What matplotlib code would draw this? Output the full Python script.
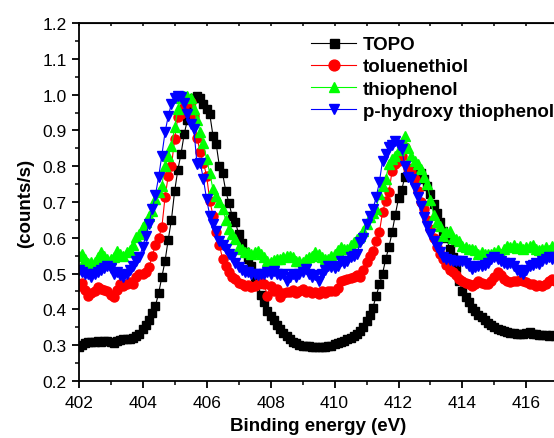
import numpy as np
import matplotlib
matplotlib.use('Agg')
import matplotlib.pyplot as plt
from matplotlib.ticker import MultipleLocator

plt.rcParams['font.family'] = ['Liberation Sans', 'DejaVu Sans']

# binding energy grid (eV), 0.1 eV steps
energy = np.round(np.arange(402.0, 416.95, 0.1), 1)

# normalised intensities, 10 points per eV
topo = [
    0.295, 0.300, 0.305, 0.308, 0.310, 0.310, 0.311, 0.310, 0.312, 0.311,
    0.310, 0.305, 0.312, 0.314, 0.316, 0.317, 0.318, 0.320, 0.325, 0.330,
    0.345, 0.355, 0.370, 0.390, 0.410, 0.445, 0.490, 0.535, 0.595, 0.650,
    0.730, 0.790, 0.835, 0.890, 0.930, 0.960, 0.990, 0.997, 0.990, 0.975,
    0.960, 0.945, 0.885, 0.862, 0.800, 0.780, 0.730, 0.697, 0.660, 0.645,
    0.610, 0.585, 0.560, 0.540, 0.520, 0.490, 0.470, 0.440, 0.420, 0.395,
    0.382, 0.370, 0.355, 0.345, 0.335, 0.325, 0.318, 0.310, 0.305, 0.300,
    0.299, 0.298, 0.297, 0.296, 0.295, 0.294, 0.295, 0.296, 0.297, 0.299,
    0.303, 0.306, 0.309, 0.313, 0.317, 0.320, 0.326, 0.332, 0.340, 0.352,
    0.368, 0.385, 0.405, 0.437, 0.470, 0.500, 0.540, 0.575, 0.615, 0.665,
    0.710, 0.735, 0.770, 0.780, 0.783, 0.786, 0.788, 0.780, 0.764, 0.745,
    0.722, 0.695, 0.670, 0.645, 0.620, 0.600, 0.570, 0.545, 0.515, 0.480,
    0.450, 0.435, 0.420, 0.405, 0.395, 0.385, 0.378, 0.370, 0.362, 0.355,
    0.350, 0.346, 0.342, 0.340, 0.336, 0.335, 0.334, 0.332, 0.331, 0.330,
    0.334, 0.338, 0.332, 0.330, 0.327, 0.328, 0.327, 0.326, 0.327, 0.326,
]

toluenethiol = [
    0.466, 0.475, 0.455, 0.438, 0.445, 0.450, 0.462, 0.458, 0.455, 0.450,
    0.440, 0.434, 0.455, 0.470, 0.465, 0.472, 0.476, 0.470, 0.490, 0.500,
    0.500, 0.505, 0.518, 0.550, 0.580, 0.600, 0.629, 0.713, 0.773, 0.800,
    0.876, 0.937, 0.946, 0.965, 0.983, 0.980, 0.941, 0.880, 0.839, 0.810,
    0.773, 0.704, 0.662, 0.615, 0.580, 0.541, 0.520, 0.504, 0.490, 0.485,
    0.475, 0.470, 0.466, 0.468, 0.462, 0.466, 0.470, 0.476, 0.470, 0.438,
    0.466, 0.450, 0.457, 0.434, 0.445, 0.448, 0.448, 0.455, 0.446, 0.450,
    0.457, 0.448, 0.450, 0.445, 0.448, 0.443, 0.450, 0.447, 0.452, 0.450,
    0.452, 0.460, 0.480, 0.482, 0.485, 0.487, 0.490, 0.495, 0.490, 0.510,
    0.532, 0.550, 0.564, 0.590, 0.615, 0.671, 0.704, 0.727, 0.788, 0.806,
    0.815, 0.830, 0.853, 0.795, 0.783, 0.764, 0.730, 0.700, 0.680, 0.650,
    0.625, 0.600, 0.575, 0.555, 0.541, 0.525, 0.510, 0.504, 0.495, 0.485,
    0.480, 0.475, 0.470, 0.466, 0.472, 0.480, 0.475, 0.470, 0.472, 0.478,
    0.490, 0.504, 0.495, 0.485, 0.480, 0.476, 0.478, 0.480, 0.482, 0.478,
    0.476, 0.470, 0.472, 0.466, 0.468, 0.466, 0.470, 0.478, 0.485, 0.480,
]

thiophenol = [
    0.550, 0.555, 0.540, 0.530, 0.532, 0.532, 0.545, 0.560, 0.550, 0.540,
    0.540, 0.545, 0.564, 0.555, 0.550, 0.560, 0.565, 0.580, 0.601, 0.610,
    0.630, 0.643, 0.660, 0.676, 0.708, 0.727, 0.746, 0.800, 0.830, 0.857,
    0.909, 0.960, 0.992, 0.995, 0.997, 0.992, 0.960, 0.930, 0.895, 0.865,
    0.820, 0.780, 0.736, 0.718, 0.700, 0.680, 0.650, 0.625, 0.610, 0.597,
    0.575, 0.569, 0.560, 0.559, 0.555, 0.560, 0.564, 0.555, 0.545, 0.536,
    0.532, 0.538, 0.540, 0.541, 0.545, 0.548, 0.550, 0.545, 0.536, 0.536,
    0.532, 0.540, 0.545, 0.550, 0.560, 0.555, 0.545, 0.541, 0.541, 0.550,
    0.555, 0.565, 0.573, 0.570, 0.570, 0.580, 0.587, 0.597, 0.606, 0.620,
    0.640, 0.657, 0.670, 0.680, 0.722, 0.745, 0.764, 0.806, 0.820, 0.830,
    0.845, 0.867, 0.885, 0.850, 0.830, 0.815, 0.805, 0.792, 0.770, 0.750,
    0.705, 0.665, 0.645, 0.634, 0.606, 0.615, 0.620, 0.600, 0.597, 0.590,
    0.578, 0.575, 0.570, 0.569, 0.565, 0.555, 0.560, 0.555, 0.555, 0.555,
    0.560, 0.565, 0.555, 0.570, 0.578, 0.575, 0.580, 0.572, 0.578, 0.570,
    0.575, 0.578, 0.580, 0.570, 0.565, 0.569, 0.575, 0.565, 0.578, 0.572,
]

hydroxy = [
    0.510, 0.505, 0.500, 0.498, 0.490, 0.500, 0.505, 0.510, 0.515, 0.522,
    0.515, 0.500, 0.505, 0.495, 0.490, 0.500, 0.510, 0.520, 0.536, 0.545,
    0.575, 0.605, 0.640, 0.680, 0.720, 0.770, 0.830, 0.895, 0.940, 0.975,
    0.990, 0.997, 0.993, 0.978, 0.946, 0.918, 0.905, 0.806, 0.810, 0.764,
    0.708, 0.662, 0.640, 0.620, 0.592, 0.580, 0.569, 0.555, 0.545, 0.530,
    0.518, 0.510, 0.504, 0.505, 0.500, 0.500, 0.495, 0.500, 0.499, 0.505,
    0.500, 0.508, 0.500, 0.495, 0.500, 0.480, 0.490, 0.500, 0.490, 0.500,
    0.505, 0.513, 0.500, 0.490, 0.495, 0.480, 0.500, 0.510, 0.522, 0.518,
    0.515, 0.520, 0.536, 0.530, 0.536, 0.545, 0.550, 0.555, 0.587, 0.600,
    0.640, 0.662, 0.680, 0.713, 0.755, 0.815, 0.834, 0.853, 0.860, 0.871,
    0.860, 0.848, 0.800, 0.769, 0.764, 0.740, 0.713, 0.690, 0.657, 0.634,
    0.610, 0.590, 0.573, 0.560, 0.545, 0.540, 0.538, 0.536, 0.535, 0.536,
    0.536, 0.530, 0.520, 0.513, 0.518, 0.520, 0.520, 0.525, 0.530, 0.540,
    0.545, 0.540, 0.535, 0.530, 0.528, 0.530, 0.520, 0.510, 0.505, 0.499,
    0.510, 0.520, 0.525, 0.530, 0.528, 0.535, 0.540, 0.545, 0.540, 0.545,
]

labels = ['TOPO', 'toluenethiol', 'thiophenol', 'p-hydroxy thiophenol']

#%%
fig = plt.figure(figsize=(5.54, 4.39), dpi=100)
ax = fig.add_axes([0.142, 0.130, 0.866, 0.815])

ax.plot(energy, topo, '-s', color='black', lw=0.8, ms=5.4, label=labels[0])
ax.plot(energy, toluenethiol, '-o', color='#ff0000', lw=0.8, ms=6.5, label=labels[1])
ax.plot(energy, thiophenol, '-^', color='#00ff00', lw=0.8, ms=6.5, label=labels[2])
ax.plot(energy, hydroxy, '-v', color='#0000ff', lw=0.8, ms=6.5, label=labels[3])

ax.set_xlim(402, 417)
ax.set_ylim(0.2, 1.2)
ax.xaxis.set_major_locator(MultipleLocator(2))
ax.xaxis.set_minor_locator(MultipleLocator(1))
ax.yaxis.set_major_locator(MultipleLocator(0.1))
ax.yaxis.set_minor_locator(MultipleLocator(0.05))

for s in ax.spines.values():
    s.set_linewidth(1.3)

ax.tick_params(which='major', direction='out', length=5, width=1.3, labelsize=12.5)
ax.tick_params(which='minor', direction='out', length=3, width=1.1)
ax.tick_params(axis='x', which='major', pad=5)

# small inward ticks along the top edge
top = ax.secondary_xaxis('top')
top.xaxis.set_major_locator(MultipleLocator(1))
top.tick_params(direction='in', length=2.5, width=1.1, labeltop=False)

ax.set_xlabel('Binding energy (eV)', fontsize=13.5, fontweight='bold', labelpad=5)
ax.set_ylabel('(counts/s)', fontsize=13.5, fontweight='bold', labelpad=6)

leg = ax.legend(loc='upper left', bbox_to_anchor=(0.531, 0.954), bbox_transform=fig.transFigure,
                frameon=False, handlelength=2.4, handletextpad=0.35, labelspacing=0.27,
                markerscale=1.2, prop={'weight': 'bold', 'size': 13.5})

plt.savefig('out.png', dpi=100)
